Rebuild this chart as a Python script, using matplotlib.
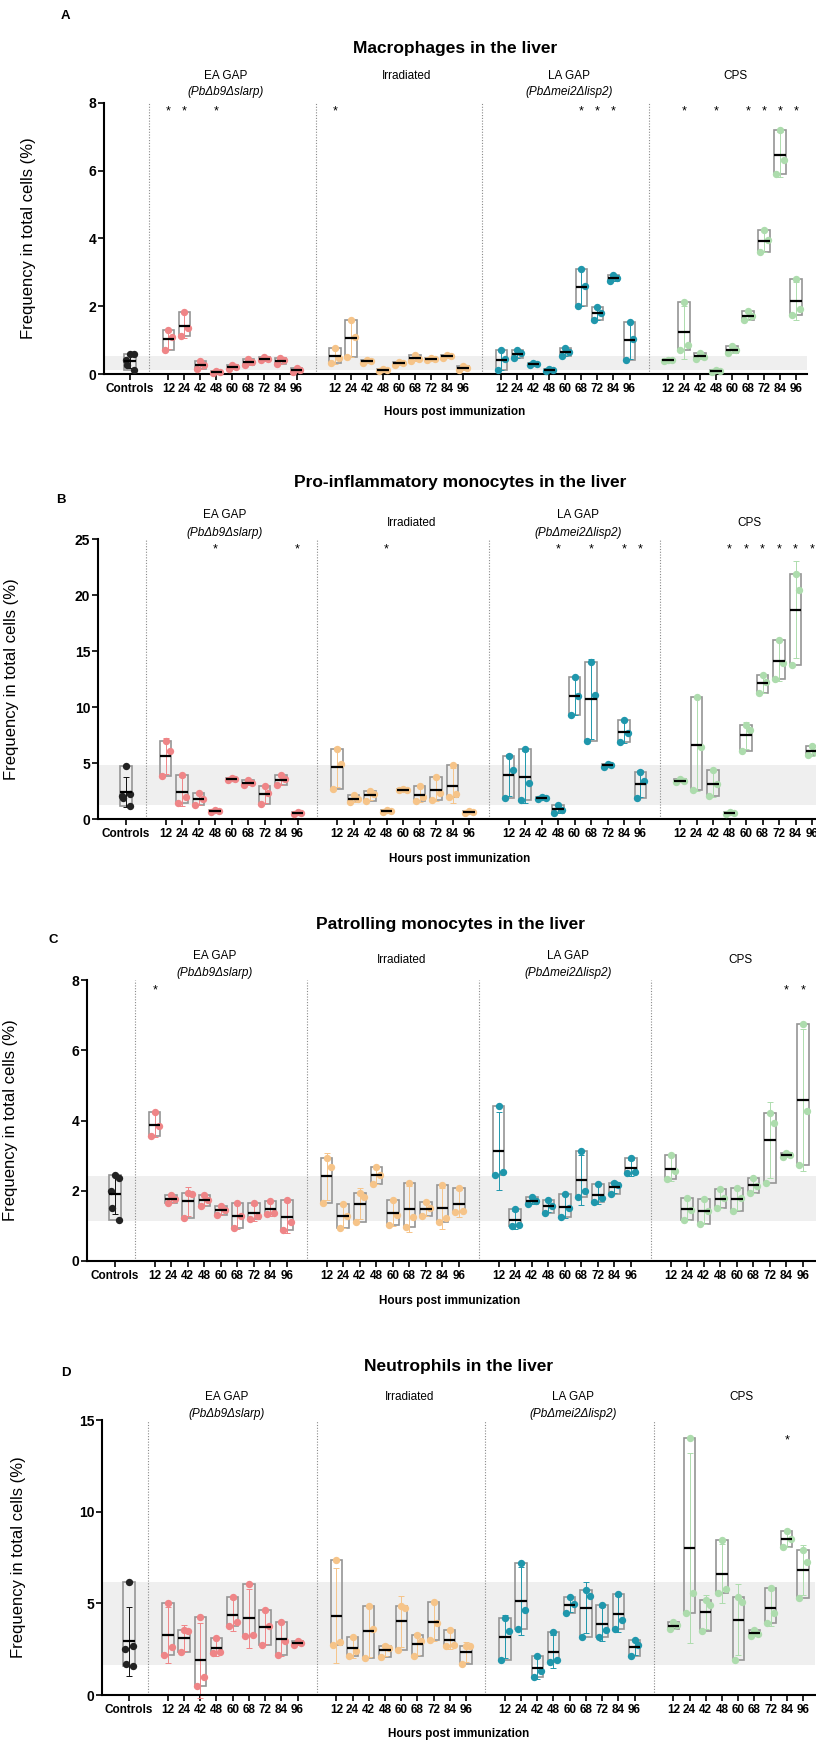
import numpy as np
import matplotlib
matplotlib.use("Agg")
import matplotlib.pyplot as plt
from matplotlib import font_manager
from matplotlib.patches import Rectangle

# Figure size in pixels (dpi 100)
W, H = 816, 1742

TIMES = ["12", "24", "42", "48", "60", "68", "72", "84", "96"]
GROUPS = ["EA", "IRR", "LA", "CPS"]
GROUP_LINE1 = ["EA GAP", "Irradiated", "LA GAP", "CPS"]
GROUP_LINE2 = ["(PbΔb9Δslarp)", None, "(PbΔmei2Δlisp2)", None]

COLORS = {"CTRL": "#222222", "EA": "#EF8587", "IRR": "#F6C489",
          "LA": "#1F97AC", "CPS": "#ADDCAD"}

# ---- Macrophages in the liver (% of total cells) ----
MAC_CTRL = [0.6, 0.58, 0.42, 0.26, 0.12]
MAC_EA = [[1.31, 1.09, 0.70], [1.82, 1.36, 1.11], [0.38, 0.28, 0.14], [0.10, 0.06, 0.04],
          [0.26, 0.20, 0.15], [0.45, 0.36, 0.28], [0.50, 0.44, 0.40], [0.47, 0.40, 0.30],
          [0.18, 0.12, 0.05]]
MAC_IRR = [[0.77, 0.47, 0.32], [1.60, 1.08, 0.50], [0.42, 0.37, 0.33], [0.15, 0.12, 0.10],
           [0.34, 0.31, 0.28], [0.56, 0.45, 0.38], [0.47, 0.43, 0.40], [0.56, 0.52, 0.48],
           [0.24, 0.17, 0.12]]
MAC_LA = [[0.70, 0.44, 0.11], [0.70, 0.62, 0.47], [0.33, 0.30, 0.27], [0.16, 0.12, 0.08],
          [0.78, 0.65, 0.52], [3.10, 2.61, 2.00], [1.98, 1.80, 1.58], [2.93, 2.83, 2.74],
          [1.53, 1.03, 0.42]]
MAC_CPS = [[0.42, 0.40, 0.38], [2.12, 0.87, 0.70], [0.62, 0.50, 0.44], [0.12, 0.08, 0.06],
           [0.82, 0.72, 0.62], [1.85, 1.72, 1.58], [4.26, 3.97, 3.59], [7.21, 6.33, 5.89],
           [2.79, 1.92, 1.75]]
MAC_BAND = (0.12, 0.52)
MAC_STARS = {"EA": ["12", "24", "48"], "IRR": ["12"], "LA": ["68", "72", "84"],
             "CPS": ["24", "48", "68", "72", "84", "96"]}

# ---- Pro-inflammatory monocytes in the liver ----
PRO_CTRL = [4.75, 2.25, 2.05, 1.9, 1.2]
PRO_EA = [[6.98, 6.06, 3.82], [3.90, 2.00, 1.43], [2.33, 1.82, 1.28], [0.78, 0.72, 0.66],
          [3.70, 3.60, 3.45], [3.45, 3.25, 3.05], [2.95, 2.33, 1.37], [3.90, 3.60, 3.00],
          [0.62, 0.55, 0.45]]
PRO_IRR = [[6.29, 4.95, 2.71], [2.10, 1.75, 1.55], [2.50, 2.25, 1.60], [0.78, 0.70, 0.65],
           [2.70, 2.60, 2.55], [2.92, 1.97, 1.61], [3.76, 2.33, 1.73], [4.80, 2.20, 1.97],
           [0.70, 0.62, 0.55]]
PRO_LA = [[5.60, 4.36, 1.88], [6.29, 3.22, 1.73], [1.95, 1.88, 1.82], [1.22, 0.84, 0.54],
          [12.65, 10.98, 9.28], [14.05, 11.07, 6.98], [4.95, 4.80, 4.65], [8.83, 7.64, 6.89],
          [4.20, 3.40, 1.88]]
PRO_CPS = [[3.55, 3.40, 3.30], [10.92, 6.44, 2.56], [4.36, 3.10, 2.03], [0.60, 0.55, 0.45],
           [8.38, 7.94, 6.09], [12.86, 12.26, 11.22], [15.99, 13.90, 12.47],
           [21.90, 20.46, 13.75], [6.55, 6.00, 5.70]]
PRO_BAND = (1.22, 4.8)
PRO_STARS = {"EA": ["48", "96"], "IRR": ["48"], "LA": ["48", "68", "84", "96"],
             "CPS": ["48", "60", "68", "72", "84", "96"]}

# ---- Patrolling monocytes in the liver ----
PAT_CTRL = [2.45, 2.35, 2.0, 1.52, 1.17]
PAT_EA = [[4.23, 3.83, 3.56], [1.88, 1.77, 1.66], [1.95, 1.91, 1.23], [1.87, 1.74, 1.58],
          [1.57, 1.45, 1.30], [1.66, 1.28, 0.93], [1.64, 1.28, 1.20], [1.70, 1.38, 1.35],
          [1.74, 1.12, 0.88]]
PAT_IRR = [[2.92, 2.67, 1.64], [1.62, 1.28, 0.93], [1.93, 1.83, 1.12], [2.67, 2.45, 2.19],
           [1.74, 1.31, 1.03], [2.23, 1.26, 0.98], [1.69, 1.50, 1.28], [2.17, 1.22, 1.12],
           [2.07, 1.43, 1.40]]
PAT_LA = [[4.42, 2.52, 2.45], [1.47, 1.03, 1.00], [1.83, 1.70, 1.62], [1.74, 1.57, 1.38],
          [1.91, 1.50, 1.24], [3.13, 1.98, 1.81], [2.19, 1.79, 1.69], [2.23, 2.17, 1.91],
          [2.92, 2.52, 2.50]]
PAT_CPS = [[3.02, 2.55, 2.33], [1.79, 1.45, 1.17], [1.76, 1.43, 1.05], [2.04, 1.79, 1.50],
           [2.07, 1.79, 1.43], [2.36, 2.14, 1.95], [4.21, 3.94, 2.21], [3.08, 3.02, 2.95],
           [6.75, 4.28, 2.74]]
PAT_BAND = (1.15, 2.42)
PAT_STARS = {"EA": ["12"], "CPS": ["84", "96"]}

# ---- Neutrophils in the liver ----
NEU_CTRL = [6.15, 2.65, 2.5, 1.7, 1.6]
NEU_EA = [[5.01, 2.61, 2.20], [3.56, 3.47, 2.32], [4.25, 0.98, 0.47], [3.10, 2.35, 2.30],
          [5.37, 3.96, 3.74], [6.05, 3.29, 3.23], [4.65, 3.74, 2.74], [4.00, 2.95, 2.20],
          [2.95, 2.85, 2.75]]
NEU_IRR = [[7.35, 2.90, 2.75], [3.16, 2.42, 2.11], [4.83, 3.60, 2.00], [2.69, 2.56, 2.07],
           [4.88, 4.74, 2.43], [3.29, 2.92, 2.11], [5.05, 3.92, 3.01], [3.56, 2.74, 2.65],
           [2.70, 2.65, 1.70]]
NEU_LA = [[4.19, 3.47, 1.89], [7.19, 4.61, 3.60], [2.11, 1.29, 0.98], [3.41, 1.92, 1.78],
          [5.35, 4.95, 4.50], [5.74, 5.41, 3.16], [4.92, 3.52, 3.16], [5.52, 4.10, 3.60],
          [3.01, 2.74, 2.14]]
NEU_CPS = [[3.96, 3.80, 3.60], [14.00, 5.56, 4.50], [5.19, 4.92, 3.47], [8.46, 5.77, 5.59],
           [5.34, 5.10, 1.89], [3.52, 3.35, 3.20], [5.83, 4.50, 3.92], [8.97, 8.50, 8.10],
           [7.92, 7.28, 5.28]]
NEU_BAND = (1.65, 6.14)
NEU_STARS = {"CPS": ["84"]}

# x layout in slot units: controls at 0, then four groups of nine time points
GROUP_START = 2.4
GROUP_STEP = 10.4
LAST_X = GROUP_START + 3 * GROUP_STEP + 8
BOX_W = 0.7
JITTER = {3: [0.0, 0.24, -0.22], 5: [0.0, 0.24, -0.22, -0.2, 0.22]}
LABEL_X = [6.0, 17.3, 27.4, 37.8]

names = {f.name for f in font_manager.fontManager.ttflist}
if "Liberation Sans Narrow" in names:
    NARROW, NARROW_SIZE = "Liberation Sans Narrow", 9.3
else:
    NARROW, NARROW_SIZE = "Liberation Sans", 8.5
plt.rcParams["font.family"] = ["Liberation Sans", "DejaVu Sans"]

PANELS = [
    dict(letter="A", title="Macrophages in the liver",
         ctrl=MAC_CTRL, groups=[MAC_EA, MAC_IRR, MAC_LA, MAC_CPS], band=MAC_BAND, stars=MAC_STARS,
         ylim=8, yticks=[0, 2, 4, 6, 8], star_y=7.75,
         box=(104, 807, 103, 374), ctrl_px=130, last_px=796,
         title_xy=(455, 49), letter_xy=(65, 16), ylabel_x=36, xlabel_xy=(455, 412),
         gaps=(27, 11, 27)),
    dict(letter="B", title="Pro-inflammatory monocytes in the liver",
         ctrl=PRO_CTRL, groups=[PRO_EA, PRO_IRR, PRO_LA, PRO_CPS], band=PRO_BAND, stars=PRO_STARS,
         ylim=25, yticks=[0, 5, 10, 15, 20, 25], star_y=24.1,
         box=(98, 816, 539, 819), ctrl_px=126, last_px=812,
         title_xy=(460, 483), letter_xy=(61, 500), ylabel_x=19, xlabel_xy=(460, 859),
         gaps=(24, 6, 16)),
    dict(letter="C", title="Patrolling monocytes in the liver",
         ctrl=PAT_CTRL, groups=[PAT_EA, PAT_IRR, PAT_LA, PAT_CPS], band=PAT_BAND, stars=PAT_STARS,
         ylim=8, yticks=[0, 2, 4, 6, 8], star_y=7.7,
         box=(87, 816, 980, 1261), ctrl_px=115, last_px=803,
         title_xy=(450, 924), letter_xy=(53, 940), ylabel_x=18, xlabel_xy=(450, 1301),
         gaps=(24, 7, 20)),
    dict(letter="D", title="Neutrophils in the liver",
         ctrl=NEU_CTRL, groups=[NEU_EA, NEU_IRR, NEU_LA, NEU_CPS], band=NEU_BAND, stars=NEU_STARS,
         ylim=15, yticks=[0, 5, 10, 15], star_y=13.9,
         box=(102, 815, 1420, 1695), ctrl_px=129, last_px=803,
         title_xy=(459, 1366), letter_xy=(66, 1373), ylabel_x=26, xlabel_xy=(459, 1734),
         gaps=(23, 6, 23)),
]


def slot_x(g, k):
    return GROUP_START + g * GROUP_STEP + k


def draw_box(ax, x, vals, color, err_color):
    vals = np.asarray(vals, dtype=float)
    lo, hi = vals.min(), vals.max()
    mean, sd = vals.mean(), vals.std(ddof=1)
    ax.add_patch(Rectangle((x - BOX_W / 2, lo), BOX_W, hi - lo, fill=False,
                           ec="#959595", lw=1.2, zorder=2, clip_on=False))
    ax.errorbar(x, mean, yerr=sd, color=err_color, lw=0.7, capsize=2.2,
                capthick=0.7, zorder=2.5, clip_on=False)
    offs = np.array(JITTER[len(vals)])
    ax.scatter(x + offs, vals, s=28, color=color, lw=0, zorder=3, clip_on=False)
    ax.plot([x - BOX_W / 2, x + BOX_W / 2], [mean, mean], color="black",
            lw=1.6, zorder=4, solid_capstyle="butt")


fig = plt.figure(figsize=(W / 100, H / 100), dpi=100)

for p in PANELS:
    left, right, top, bottom = p["box"]
    ax = fig.add_axes([left / W, 1 - bottom / H, (right - left) / W, (bottom - top) / H])
    scale = (p["last_px"] - p["ctrl_px"]) / LAST_X
    ax.set_xlim((left - p["ctrl_px"]) / scale, (right - p["ctrl_px"]) / scale)
    ax.set_ylim(0, p["ylim"])

    lo_band, hi_band = p["band"]
    ax.axhspan(lo_band, hi_band, color="#efefef", lw=0, zorder=0)

    # dotted separators between controls and the four immunization groups
    for sep in [GROUP_START / 2] + [slot_x(g, 0) - (GROUP_STEP - 8) / 2 for g in (1, 2, 3)]:
        ax.axvline(sep, color="#8a8a8a", lw=0.8, ls=(0, (1, 1.5)), zorder=1)

    draw_box(ax, 0, p["ctrl"], COLORS["CTRL"], "#111111")
    for g, gname in enumerate(GROUPS):
        for k, vals in enumerate(p["groups"][g]):
            draw_box(ax, slot_x(g, k), vals, COLORS[gname], COLORS[gname])
        for t in p["stars"].get(gname, []):
            ax.text(slot_x(g, TIMES.index(t)), p["star_y"], "*", ha="center",
                    va="center", fontsize=9)

        g1, g2, gs = p["gaps"]
        if GROUP_LINE2[g] is None:
            ax.annotate(GROUP_LINE1[g], xy=(LABEL_X[g], 1), xycoords=("data", "axes fraction"),
                        xytext=(0, gs * 0.72), textcoords="offset points",
                        ha="center", va="center", fontsize=8.5, annotation_clip=False)
        else:
            ax.annotate(GROUP_LINE1[g], xy=(LABEL_X[g], 1), xycoords=("data", "axes fraction"),
                        xytext=(0, g1 * 0.72), textcoords="offset points",
                        ha="center", va="center", fontsize=8.5, annotation_clip=False)
            ax.annotate(GROUP_LINE2[g], xy=(LABEL_X[g], 1), xycoords=("data", "axes fraction"),
                        xytext=(0, g2 * 0.72), textcoords="offset points",
                        ha="center", va="center", fontsize=8.5, style="italic",
                        annotation_clip=False)

    xt = [0] + [slot_x(g, k) for g in range(4) for k in range(len(TIMES))]
    ax.set_xticks(xt)
    ax.set_xticklabels(["Controls"] + TIMES * 4, family=NARROW, weight="bold",
                       fontsize=NARROW_SIZE)
    ax.set_yticks(p["yticks"])
    ax.set_yticklabels([str(v) for v in p["yticks"]], weight="bold", fontsize=10)
    ax.tick_params(axis="both", direction="out", length=4, width=1.2, color="black")
    ax.tick_params(axis="x", pad=2.5)
    ax.tick_params(axis="y", pad=1.5)
    for side in ("top", "right"):
        ax.spines[side].set_visible(False)
    for side in ("left", "bottom"):
        ax.spines[side].set_linewidth(1.5)

    ax.set_ylabel("Frequency in total cells (%)", fontsize=12)
    ax.yaxis.set_label_coords((p["ylabel_x"] - left) / (right - left), 0.5)

    fig.text(p["title_xy"][0] / W, 1 - p["title_xy"][1] / H, p["title"],
             ha="center", va="center", fontsize=12.5, weight="bold")
    fig.text(p["letter_xy"][0] / W, 1 - p["letter_xy"][1] / H, p["letter"],
             ha="center", va="center", fontsize=9.5, weight="bold")
    fig.text(p["xlabel_xy"][0] / W, 1 - p["xlabel_xy"][1] / H, "Hours post immunization",
             ha="center", va="center", fontsize=NARROW_SIZE, weight="bold", family=NARROW)

fig.savefig("out.png", dpi=100)
